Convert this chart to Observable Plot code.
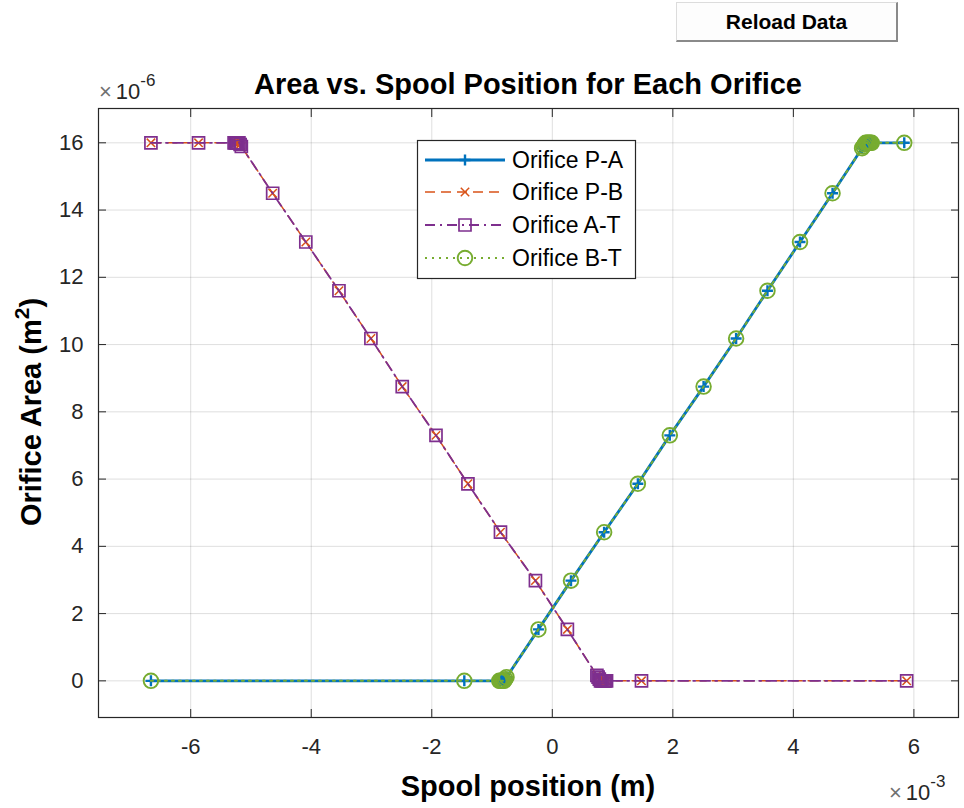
<!DOCTYPE html>
<html><head><meta charset="utf-8">
<script src="https://cdn.jsdelivr.net/npm/d3@7"></script>
<script src="https://cdn.jsdelivr.net/npm/@observablehq/plot@0.6"></script>
<style>
html,body{margin:0;padding:0;background:#fff;}
#fig{position:relative;width:964px;height:808px;overflow:hidden;background:#fff;font-family:'Liberation Sans',Arial,Helvetica,sans-serif;}
#chart{position:absolute;left:0;top:0;}
#overlay{position:absolute;left:0;top:0;}
#btn{position:absolute;left:676px;top:2px;width:222px;height:40px;box-sizing:border-box;background:#fdfdfd;
 border-top:1px solid #dcdcdc;border-left:1px solid #dcdcdc;border-right:2px solid #8a8a8a;border-bottom:2px solid #8a8a8a;
 font:bold 21px 'Liberation Sans',Arial,sans-serif;color:#000;text-align:center;line-height:37px;}
</style>
</head><body>
<div id="fig">
  <div id="chart"></div>
  <svg id="overlay" width="964" height="808"></svg>
  <div id="btn">Reload Data</div>
</div>
<script>
// ---- data (x in units of 1e-3 m, y in units of 1e-6 m^2) ----
const spoolUp = [-6.66, -1.46, -0.88, -0.86, -0.84, -0.82, -0.80, -0.78, -0.76, -0.23, 0.31, 0.86, 1.42, 1.95, 2.51, 3.05, 3.57, 4.11, 4.65, 5.14, 5.16, 5.18, 5.20, 5.22, 5.24, 5.26, 5.28, 5.30, 5.84];
const areaUp  = [0, 0, 0, 0, 0, 0, 0, 0.05, 0.11, 1.53, 2.98, 4.42, 5.86, 7.3, 8.75, 10.18, 11.6, 13.05, 14.5, 15.84, 15.89, 15.95, 16, 16, 16, 16, 16, 16, 16];
const spoolDown = [-6.66, -5.87, -5.28, -5.26, -5.24, -5.22, -5.20, -5.18, -5.16, -4.64, -4.09, -3.54, -3.01, -2.49, -1.93, -1.40, -0.86, -0.28, 0.25, 0.74, 0.76, 0.78, 0.80, 0.82, 0.84, 0.86, 0.88, 0.90, 1.48, 5.88];
const areaDown  = [16, 16, 16, 16, 16, 16, 16, 15.95, 15.89, 14.5, 13.05, 11.6, 10.18, 8.75, 7.3, 5.86, 4.42, 2.98, 1.53, 0.16, 0.11, 0.05, 0, 0, 0, 0, 0, 0, 0, 0];
const seriesNames = ["Orifice P-A", "Orifice P-B", "Orifice A-T", "Orifice B-T"];
const xTicks = [-6, -4, -2, 0, 2, 4, 6];
const yTicks = [0, 2, 4, 6, 8, 10, 12, 14, 16];
const titleText = "Area vs. Spool Position for Each Orifice";
const xLabel = "Spool position (m)";
const yLabel = "Orifice Area (m";

// ---- styles ----
const upRows = spoolUp.map((x, i) => ({x, y: areaUp[i]}));
const downRows = spoolDown.map((x, i) => ({x, y: areaDown[i]}));
const hr = s => Math.sqrt(s / Math.PI);
const symPlus = {draw(c, s){const r=hr(s); c.moveTo(-r,0); c.lineTo(r,0); c.moveTo(0,-r); c.lineTo(0,r);}};
const symTimes = {draw(c, s){const r=hr(s); c.moveTo(-r,-r); c.lineTo(r,r); c.moveTo(-r,r); c.lineTo(r,-r);}};
const symSquare = {draw(c, s){const r=hr(s); c.rect(-r,-r,2*r,2*r);}};
const symCircle = {draw(c, s){const r=hr(s); c.moveTo(r,0); c.arc(0,0,r,0,2*Math.PI);}};
const styles = [
  {rows: upRows,   color: "#0072BD", width: 2.8, dash: null,        sym: symPlus,   r: 5.5, mw: 2.4},
  {rows: downRows, color: "#D95319", width: 1.5, dash: "10,6",      sym: symTimes,  r: 4.2, mw: 1.5},
  {rows: downRows, color: "#7E2F8E", width: 1.8, dash: "10,5,2,5",  sym: symSquare, r: 6,   mw: 1.7},
  {rows: upRows,   color: "#77AC30", width: 2,   dash: "2,5",       sym: symCircle, r: 7.3, mw: 1.9}
];

const fontFam = "'Liberation Sans', Arial, Helvetica, sans-serif";
const ink = "#262626";
const fmt = d => String(d);

const marks = [
  Plot.gridX(xTicks, {stroke: ink, strokeOpacity: 0.15, strokeWidth: 1}),
  Plot.gridY(yTicks, {stroke: ink, strokeOpacity: 0.15, strokeWidth: 1})
];
for (const s of styles) {
  marks.push(Plot.line(s.rows, {x: "x", y: "y", stroke: s.color, strokeWidth: s.width, strokeDasharray: s.dash}));
  marks.push(Plot.dot(s.rows, {x: "x", y: "y", symbol: s.sym, r: s.r, stroke: s.color, fill: "none", strokeWidth: s.mw}));
}
marks.push(
  Plot.frame({stroke: ink, strokeWidth: 1.2}),
  Plot.axisX(xTicks, {anchor: "bottom", tickSize: -8, tickPadding: 29, tickFormat: fmt, label: null, fontSize: 22, stroke: ink, fill: ink}),
  Plot.axisX(xTicks, {anchor: "top", tickSize: -8, tickFormat: () => "", label: null, stroke: ink}),
  Plot.axisY(yTicks, {anchor: "left", tickSize: -8, tickPadding: 23, tickFormat: fmt, label: null, fontSize: 22, stroke: ink, fill: ink}),
  Plot.axisY(yTicks, {anchor: "right", tickSize: -8, tickFormat: () => "", label: null, stroke: ink})
);

const chart = Plot.plot({
  width: 964, height: 808,
  marginLeft: 98, marginRight: 6, marginTop: 108, marginBottom: 91,
  x: {domain: [-7.53, 6.74]},
  y: {domain: [-1.09, 17.02]},
  style: {fontFamily: fontFam, color: ink, background: "transparent", overflow: "visible"},
  marks
});
document.getElementById("chart").appendChild(chart);

// ---- annotations, legend ----
const ov = d3.select("#overlay").style("font-family", fontFam);
ov.append("text").attr("x", 528).attr("y", 94).attr("text-anchor", "middle")
  .attr("font-size", 29).attr("font-weight", "bold").attr("fill", "#000").text(titleText);
ov.append("text").attr("x", 528).attr("y", 796).attr("text-anchor", "middle")
  .attr("font-size", 29).attr("font-weight", "bold").attr("fill", "#000").text(xLabel);
const yl = ov.append("text").attr("transform", "translate(41,412) rotate(-90)").attr("text-anchor", "middle")
  .attr("font-size", 29).attr("font-weight", "bold").attr("fill", "#000");
yl.append("tspan").text(yLabel);
yl.append("tspan").attr("font-size", 21).attr("dy", -12).text("2");
yl.append("tspan").attr("dy", 12).text(")");

function expo(x, y, e) {
  const t = ov.append("text").attr("x", x).attr("y", y).attr("fill", ink).attr("font-size", 22);
  t.append("tspan").attr("fill", "#707070").text("\u00d7");
  t.append("tspan").attr("dx", 4).text("10");
  t.append("tspan").attr("font-size", 17).attr("dy", -13).text(e);
}
expo(99, 99, "-6");
expo(889, 800, "-3");

const lg = ov.append("g");
lg.append("rect").attr("x", 417.5).attr("y", 140.5).attr("width", 218).attr("height", 138)
  .attr("fill", "#fff").attr("stroke", ink).attr("stroke-width", 1.2);
const rowY = [160, 192, 225, 258];
styles.forEach((s, i) => {
  const y = rowY[i];
  lg.append("line").attr("x1", 425).attr("x2", 505).attr("y1", y).attr("y2", y)
    .attr("stroke", s.color).attr("stroke-width", s.width).attr("stroke-dasharray", s.dash);
  const p = d3.path(); s.sym.draw(p, Math.PI * s.r * s.r);
  lg.append("path").attr("d", p.toString()).attr("transform", `translate(465,${y})`)
    .attr("fill", "none").attr("stroke", s.color).attr("stroke-width", s.mw);
  lg.append("text").attr("x", 512).attr("y", y + 8).attr("font-size", 23).attr("fill", "#000").text(seriesNames[i]);
});
</script>
</body></html>
